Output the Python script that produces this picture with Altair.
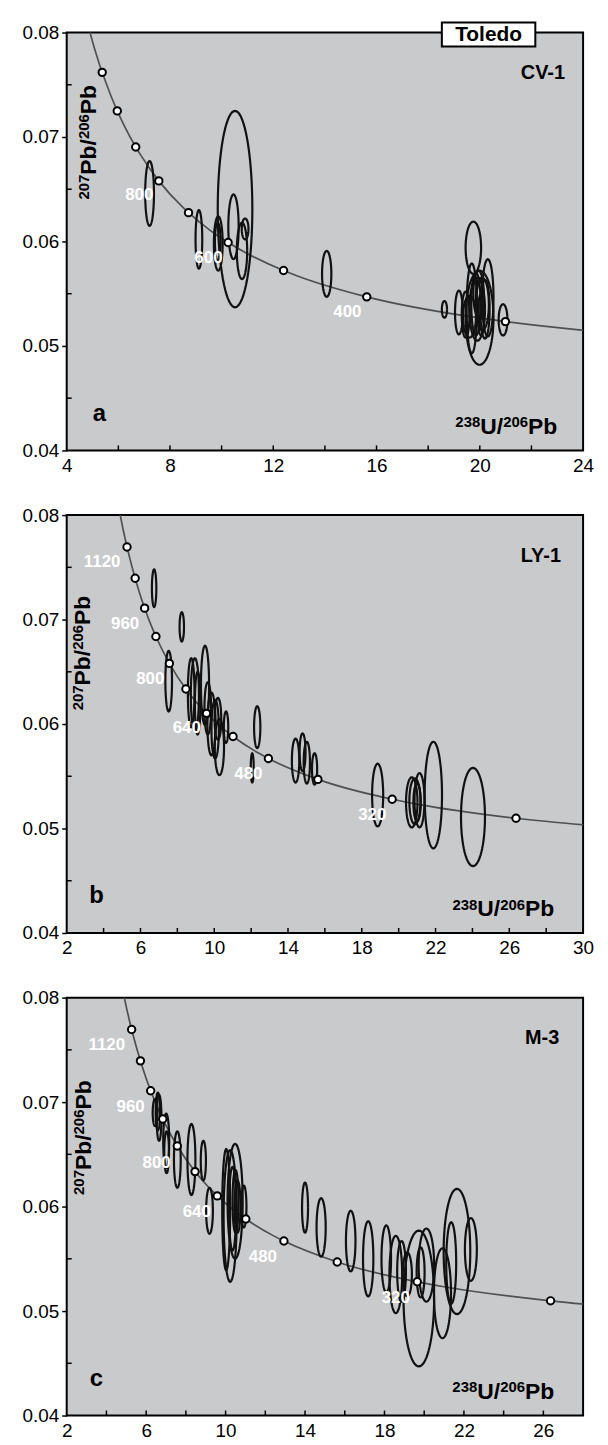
import altair as alt
import numpy as np
import pandas as pd

FONT = "Liberation Sans"

# ---- concordia curve (x = 238U/206Pb, y = 207Pb/206Pb)
conc_x = [4.476, 4.888, 5.270, 5.375, 5.712, 5.959, 6.227, 6.674, 6.837, 7.568, 8.463, 8.718,
          9.581, 10.252, 11.019, 12.399, 12.936, 15.621, 19.649, 20.992, 26.363, 31.735, 39.79]
conc_y = [0.08432, 0.08012, 0.07695, 0.07619, 0.07395, 0.07250, 0.07109, 0.06904, 0.06838, 0.06580,
          0.06335, 0.06276, 0.06102, 0.05990, 0.05881, 0.05722, 0.05670, 0.05470, 0.05280, 0.05233,
          0.05098, 0.05011, 0.04926]

# ---- age markers on concordia
a_mark_x = [5.375, 5.959, 6.674, 7.568, 8.718, 10.252, 12.399, 15.621, 20.992]
a_mark_y = [0.07619, 0.07250, 0.06904, 0.06580, 0.06276, 0.05990, 0.05722, 0.05470, 0.05233]
bc_mark_x = [5.270, 5.712, 6.227, 6.837, 7.568, 8.463, 9.581, 11.019, 12.936, 15.621, 19.649, 26.363]
bc_mark_y = [0.07695, 0.07395, 0.07109, 0.06838, 0.06580, 0.06335, 0.06102, 0.05881, 0.05670,
             0.05470, 0.05280, 0.05098]

# ---- age labels
a_age_text = ["800", "600", "400"]
a_age_x = [6.81, 9.49, 14.87]
a_age_y = [0.0644, 0.0584, 0.0532]
b_age_text = ["1120", "960", "800", "640", "480", "320"]
b_age_x = [3.92, 5.17, 6.53, 8.51, 11.85, 18.57]
b_age_y = [0.0755, 0.0696, 0.0643, 0.0596, 0.0552, 0.0513]
c_age_text = ["1120", "960", "800", "640", "480", "320"]
c_age_x = [4.02, 5.22, 6.53, 8.55, 11.88, 18.57]
c_age_y = [0.0755, 0.0695, 0.0642, 0.0595, 0.0552, 0.0512]

# ---- error ellipses: centre x, centre y, half-width, half-height
a_cx = [7.21, 9.12, 9.87, 9.85, 10.52, 10.46, 10.79, 10.91, 14.07, 18.63, 19.19, 19.75, 19.99, 20.31,
        19.69, 19.90, 20.10, 19.60, 20.00, 20.90, 19.85, 20.20, 19.95, 20.05, 19.45]
a_cy = [0.0646, 0.0602, 0.0598, 0.0600, 0.0631, 0.0614, 0.0591, 0.0612, 0.0569, 0.0535, 0.0532, 0.0594,
        0.0527, 0.0546, 0.0536, 0.0535, 0.0540, 0.0528, 0.0545, 0.0525, 0.0540, 0.0535, 0.0550, 0.0530,
        0.0530]
a_rx = [0.17, 0.13, 0.17, 0.11, 0.67, 0.20, 0.20, 0.13, 0.18, 0.10, 0.15, 0.30, 0.54, 0.22, 0.20, 0.30,
        0.25, 0.25, 0.15, 0.17, 0.18, 0.18, 0.20, 0.12, 0.15]
a_ry = [0.0031, 0.0028, 0.0026, 0.0018, 0.0094, 0.0031, 0.0027, 0.0010, 0.0022, 0.0008, 0.0021, 0.0025,
        0.0045, 0.0037, 0.0043, 0.0030, 0.0025, 0.0020, 0.0020, 0.0015, 0.0030, 0.0028, 0.0022, 0.0020,
        0.0022]

b_cx = [6.74, 8.24, 7.53, 8.75, 8.95, 9.10, 9.50, 9.65, 9.85, 10.05, 10.28, 10.20, 10.64, 12.33, 12.06,
        14.41, 14.79, 15.02, 15.44, 18.86, 20.71, 20.88, 21.13, 21.00, 21.88, 24.03]
b_cy = [0.0730, 0.0693, 0.0641, 0.0630, 0.0628, 0.0620, 0.0637, 0.0615, 0.0600, 0.0595, 0.0578, 0.0605,
        0.0597, 0.0597, 0.0558, 0.0565, 0.0573, 0.0563, 0.0557, 0.0532, 0.0525, 0.0526, 0.0527, 0.0525,
        0.0532, 0.0511]
b_rx = [0.12, 0.12, 0.18, 0.18, 0.22, 0.15, 0.22, 0.18, 0.22, 0.20, 0.25, 0.18, 0.12, 0.17, 0.08, 0.20,
        0.16, 0.17, 0.14, 0.30, 0.31, 0.30, 0.27, 0.20, 0.47, 0.65]
b_ry = [0.0018, 0.0014, 0.0029, 0.0033, 0.0035, 0.0030, 0.0038, 0.0025, 0.0030, 0.0028, 0.0027, 0.0020,
        0.0015, 0.0020, 0.0014, 0.0021, 0.0018, 0.0020, 0.0015, 0.0030, 0.0024, 0.0022, 0.0026, 0.0018,
        0.0051, 0.0047]

c_cx = [6.45, 6.59, 6.65, 7.01, 7.03, 7.57, 8.28, 8.88, 9.19, 10.48, 10.23, 10.03, 10.50, 10.60, 10.35,
        10.92, 14.00, 14.81, 16.30, 17.18, 18.09, 18.57, 18.86, 19.15, 19.73, 20.11, 19.82, 20.92, 21.36,
        21.65, 22.35]
c_cy = [0.0690, 0.0691, 0.0685, 0.0663, 0.0652, 0.0645, 0.0645, 0.0644, 0.0596, 0.0605, 0.0591, 0.0597,
        0.0605, 0.0600, 0.0598, 0.0600, 0.0599, 0.0580, 0.0567, 0.0550, 0.0550, 0.0535, 0.0538, 0.0535,
        0.0512, 0.0544, 0.0537, 0.0517, 0.0546, 0.0557, 0.0559]
c_rx = [0.12, 0.11, 0.12, 0.15, 0.12, 0.17, 0.20, 0.13, 0.17, 0.38, 0.33, 0.20, 0.15, 0.15, 0.18, 0.13,
        0.15, 0.23, 0.24, 0.26, 0.24, 0.32, 0.22, 0.23, 0.77, 0.39, 0.20, 0.43, 0.25, 0.67, 0.30]
c_ry = [0.0013, 0.0018, 0.0022, 0.0026, 0.0020, 0.0027, 0.0034, 0.0019, 0.0022, 0.0055, 0.0063, 0.0058,
        0.0030, 0.0025, 0.0040, 0.0020, 0.0024, 0.0028, 0.0029, 0.0036, 0.0032, 0.0037, 0.0029, 0.0021,
        0.0065, 0.0035, 0.0024, 0.0043, 0.0039, 0.0060, 0.0030]

# ---- axes
y_labels = [0.04, 0.05, 0.06, 0.07, 0.08]
y_minor = [0.045, 0.055, 0.065, 0.075]
a_x_labels = [4, 8, 12, 16, 20, 24]
a_x_ticks = [6, 8, 10, 12, 14, 16, 18, 20, 22]
b_x_labels = [2, 6, 10, 14, 18, 22, 26, 30]
b_x_ticks = [4, 6, 8, 10, 12, 14, 16, 18, 20, 22, 24, 26, 28]
c_x_labels = [2, 6, 10, 14, 18, 22, 26]
c_x_ticks = [4, 6, 8, 10, 12, 14, 16, 18, 20, 22, 24, 26]

# axis-title pieces (text, is superscript)
x_title_parts = [("238", True), ("U/", False), ("206", True), ("Pb", False)]
y_title_parts = [("207", True), ("Pb/", False), ("206", True), ("Pb", False)]

N_PTS = 72
MAIN, SUP = 23, 15
CW = {"0": .556, "1": .556, "2": .556, "3": .556, "4": .556, "5": .556, "6": .556, "7": .556,
      "8": .556, "9": .556, "U": .722, "/": .278, "P": .667, "b": .611}


def tw(s, size):
    return sum(CW[c] for c in s) * size


def ellipse_table(cx, cy, rx, ry):
    rows = []
    ang = np.linspace(0, 2 * np.pi, N_PTS + 1)
    for i in range(len(cx)):
        for k, t in enumerate(ang):
            rows.append({"id": i, "k": k,
                         "x": cx[i] + rx[i] * np.cos(t),
                         "y": cy[i] + ry[i] * np.sin(t)})
    return pd.DataFrame(rows)


def one(x, y, t):
    return pd.DataFrame({"x": [x], "y": [y], "t": [t]})


def panel(xdom, xlabels, xticks, cx, cy, rx, ry, mx, my, atext, ax_, ay_,
          name, name_x, letter, letter_x, xt_x, yt_x, yt_y, toledo=False):
    xs = alt.Scale(domain=xdom, nice=False, zero=False)
    ys = alt.Scale(domain=[0.04, 0.08], nice=False, zero=False)
    xaxis = alt.Axis(values=xlabels, format="d", ticks=False, domain=False, grid=False,
                     labelFont=FONT, labelFontSize=19, labelColor="black", labelPadding=6,
                     labelFlush=False, title=None)
    yaxis = alt.Axis(values=y_labels, format=".2f", tickSize=5, tickWidth=1.5, tickColor="black",
                     domain=False, grid=False, labelFont=FONT, labelFontSize=19,
                     labelColor="black", labelPadding=3, labelFlush=False, title=None)

    def X(f="x"):
        return alt.X(f + ":Q", scale=xs, axis=xaxis)

    def Y(f="y"):
        return alt.Y(f + ":Q", scale=ys, axis=yaxis)

    conc = alt.Chart(pd.DataFrame({"x": conc_x, "y": conc_y})).mark_line(
        color="#505050", strokeWidth=1.7, clip=True, interpolate="monotone"
    ).encode(x=X(), y=Y())

    ell = alt.Chart(ellipse_table(cx, cy, rx, ry)).mark_line(
        color="#111111", strokeWidth=2.2, clip=True
    ).encode(x=X(), y=Y(), detail="id:N", order="k:Q")

    xt = alt.Chart(pd.DataFrame({"t": xticks})).mark_rule(
        color="black", strokeWidth=1.5, y2Offset=-5
    ).encode(x=X("t"), y=alt.datum(0.04), y2=alt.datum(0.04))

    yt = alt.Chart(pd.DataFrame({"t": y_minor})).mark_rule(
        color="black", strokeWidth=1.5, x2Offset=5
    ).encode(y=Y("t"), x=alt.datum(xdom[0]), x2=alt.datum(xdom[0]))

    marks = alt.Chart(pd.DataFrame({"x": mx, "y": my})).mark_circle(
        size=55, fill="white", stroke="black", strokeWidth=2, opacity=1
    ).encode(x=X(), y=Y())

    ages = alt.Chart(pd.DataFrame({"x": ax_, "y": ay_, "t": atext})).mark_text(
        color="white", font=FONT, fontSize=17, fontWeight="bold"
    ).encode(x=X(), y=Y(), text="t:N")

    nm = alt.Chart(one(name_x, 0.0761, name)).mark_text(
        font=FONT, fontSize=20, fontWeight="bold", align="right", color="black"
    ).encode(x=X(), y=Y(), text="t:N")

    lt = alt.Chart(one(letter_x, 0.0435, letter)).mark_text(
        font=FONT, fontSize=24, fontWeight="bold", color="black"
    ).encode(x=X(), y=Y(), text="t:N")

    layers = [conc, ell, xt, yt, marks, ages, nm, lt]

    # x-axis title inside the plot, right-aligned, with superscripts
    tot = sum(tw(s, SUP if sup else MAIN) for s, sup in x_title_parts)
    cum = 0.0
    for s, sup in x_title_parts:
        size = SUP if sup else MAIN
        layers.append(alt.Chart(one(xt_x, 0.0416, s)).mark_text(
            font=FONT, fontSize=size, fontWeight="bold", align="left", baseline="alphabetic",
            color="black", dx=-tot + cum, dy=-(0.716 * (MAIN - SUP) + 1) if sup else 0
        ).encode(x=X(), y=Y(), text="t:N"))
        cum += tw(s, size)

    # y-axis title inside the plot, rotated, centred
    tot = sum(tw(s, SUP if sup else MAIN) for s, sup in y_title_parts)
    cum = 0.0
    for s, sup in y_title_parts:
        size = SUP if sup else MAIN
        layers.append(alt.Chart(one(yt_x, yt_y, s)).mark_text(
            font=FONT, fontSize=size, fontWeight="bold", align="left", baseline="alphabetic",
            angle=270, color="black", dx=-tot / 2 + cum,
            dy=-(0.716 * (MAIN - SUP) + 1) if sup else 0
        ).encode(x=X(), y=Y(), text="t:N"))
        cum += tw(s, size)

    if toledo:
        box = alt.Chart(pd.DataFrame({"x": [18.53], "x2": [22.15], "y": [0.07867], "y2": [0.08095]})).mark_rect(
            fill="white", stroke="black", strokeWidth=2
        ).encode(x=X(), x2="x2:Q", y=Y(), y2="y2:Q")
        tt = alt.Chart(one(20.34, 0.0798, "Toledo")).mark_text(
            font=FONT, fontSize=21, fontWeight="bold", color="black"
        ).encode(x=X(), y=Y(), text="t:N")
        layers += [box, tt]
    return alt.layer(*layers).properties(width=519, height=420)


pa = panel([4, 24], a_x_labels, a_x_ticks, a_cx, a_cy, a_rx, a_ry, a_mark_x, a_mark_y,
           a_age_text, a_age_x, a_age_y, "CV-1", 23.3, "a", 5.27, 23.0, 5.12, 0.0695, toledo=True)
pb = panel([2, 30], b_x_labels, b_x_ticks, b_cx, b_cy, b_rx, b_ry, bc_mark_x, bc_mark_y,
           b_age_text, b_age_x, b_age_y, "LY-1", 28.8, "b", 3.62, 28.44, 3.24, 0.0668)
pc = panel([2, 28], c_x_labels, c_x_ticks, c_cx, c_cy, c_rx, c_ry, bc_mark_x, bc_mark_y,
           c_age_text, c_age_x, c_age_y, "M-3", 26.8, "c", 3.5, 26.55, 3.2, 0.0666)

chart = alt.vconcat(pa, pb, pc, spacing=29).properties(
    padding={"left": 13, "top": 9, "right": 5, "bottom": 5}
).configure_view(stroke="black", strokeWidth=2, fill="#c9cacc")

chart.save("out.html", embed_options={"renderer": "svg", "actions": False})
